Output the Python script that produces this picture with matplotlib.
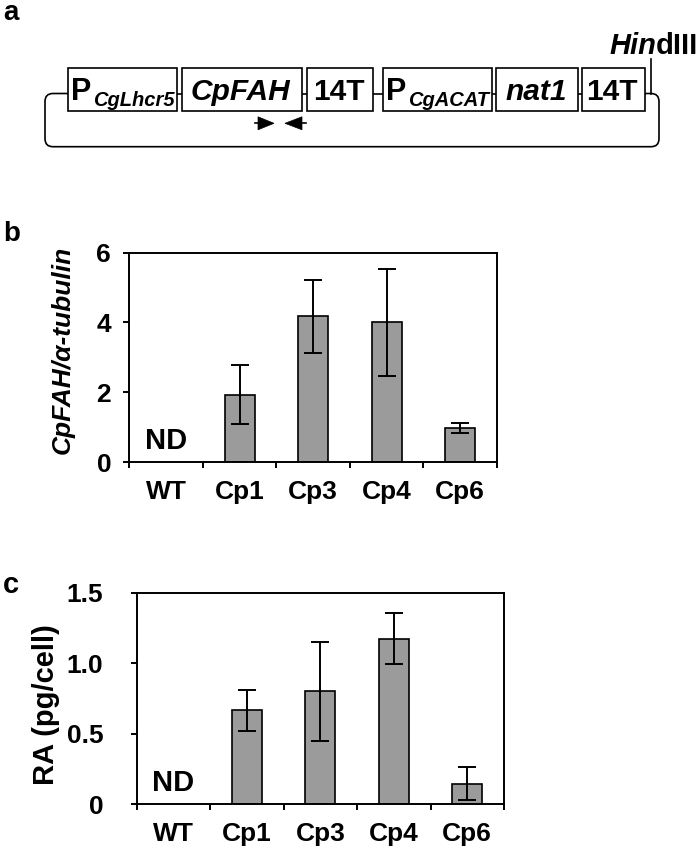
import numpy as np
import matplotlib
matplotlib.use('Agg')
import matplotlib.pyplot as plt
from matplotlib.patches import Rectangle, Polygon, PathPatch
from matplotlib.path import Path

plt.rcParams['font.family'] = ['Liberation Sans', 'DejaVu Sans']
plt.rcParams['font.weight'] = 'bold'
plt.rcParams['axes.labelweight'] = 'bold'

# ---------------- data ----------------
strains = ['WT', 'Cp1', 'Cp3', 'Cp4', 'Cp6']
expr_mean = [None, 1.93, 4.17, 4.00, 0.97]   # CpFAH / alpha-tubulin
expr_err = [None, 0.85, 1.05, 1.53, 0.15]
ra_mean = [None, 0.665, 0.80, 1.176, 0.145]  # RA (pg/cell)
ra_err = [None, 0.145, 0.352, 0.18, 0.12]
expr_ticks = [0, 2, 4, 6]
expr_ticklabels = ['0', '2', '4', '6']
ra_ticks = [0, 0.5, 1.0, 1.5]
ra_ticklabels = ['0', '0.5', '1.0', '1.5']
nd_label = 'ND'

# construct map (panel a): main label, subscript, italic
parts_main = ['P', 'CpFAH', '14T', 'P', 'nat1', '14T']
parts_sub = ['CgLhcr5', '', '', 'CgACAT', '', '']
parts_italic = [False, True, False, False, True, False]
site_label_italic = 'Hin'
site_label_plain = 'dIII'

BAR_COLOR = '#9b9b9b'

fig = plt.figure(figsize=(7, 8.59), dpi=100)

# ---------------- panel a : overlay axes in pixel units ----------------
ax0 = fig.add_axes([0, 0, 1, 1])
ax0.set_xlim(0, 700)
ax0.set_ylim(859, 0)
ax0.axis('off')

lw = 1.2
box_x = [(67.7, 177.3), (181.7, 301.7), (306.7, 373.3),
         (383.3, 491.7), (496.0, 577.7), (581.7, 645.0)]
box_top, box_bot = 68.3, 110.7
line_y = 93.5
loop_l, loop_r, loop_b, r = 45.0, 659.0, 146.7, 8.0

# backbone line through boxes
ax0.plot([box_x[0][0], box_x[-1][1]], [line_y, line_y], color='black', lw=lw, zorder=1)
# loop
verts = [(box_x[0][0], line_y), (loop_l + r, line_y), (loop_l, line_y), (loop_l, line_y + r),
         (loop_l, loop_b - r), (loop_l, loop_b), (loop_l + r, loop_b),
         (loop_r - r, loop_b), (loop_r, loop_b), (loop_r, loop_b - r),
         (loop_r, line_y + r), (loop_r, line_y), (loop_r - r, line_y),
         (box_x[-1][1], line_y)]
codes = [Path.MOVETO, Path.LINETO, Path.CURVE3, Path.CURVE3,
         Path.LINETO, Path.CURVE3, Path.CURVE3,
         Path.LINETO, Path.CURVE3, Path.CURVE3,
         Path.LINETO, Path.CURVE3, Path.CURVE3,
         Path.LINETO]
ax0.add_patch(PathPatch(Path(verts, codes), fill=False, lw=lw, color='black', zorder=1))

for (x0, x1), main, sub, ital in zip(box_x, parts_main, parts_sub, parts_italic):
    ax0.add_patch(Rectangle((x0, box_top), x1 - x0, box_bot - box_top,
                            facecolor='white', edgecolor='black', lw=lw, zorder=2))
    if sub:
        ax0.text(x0 + 3.0, 99.5, main, fontsize=22, ha='left', va='baseline', zorder=3)
        ax0.text(x0 + 25.0, 106.5, sub, fontsize=14.5, fontstyle='italic',
                 ha='left', va='baseline', zorder=3)
    else:
        ax0.text((x0 + x1) / 2 - 1, 100.5, main, fontsize=21.5,
                 fontstyle='italic' if ital else 'normal',
                 ha='center', va='baseline', zorder=3)

# HindIII site
ax0.plot([651, 651], [59.3, line_y], color='black', lw=lw, zorder=1)
t1 = ax0.text(609, 53.5, site_label_italic, fontsize=21, fontstyle='italic',
              ha='left', va='baseline')
ax0.annotate(site_label_plain, xy=(1, 0), xycoords=t1, fontsize=21,
             ha='left', va='bottom')

# primer arrows
ay = 123.3
ax0.add_patch(Polygon([(258.0, ay - 6.5), (274.0, ay), (258.0, ay + 6.5)],
                      closed=True, facecolor='black', edgecolor='black', lw=0.5))
ax0.plot([254.5, 259], [ay, ay], color='black', lw=lw)
ax0.add_patch(Polygon([(302.0, ay - 6.5), (285.0, ay), (302.0, ay + 6.5)],
                      closed=True, facecolor='black', edgecolor='black', lw=0.5))
ax0.plot([301, 305.5], [ay, ay], color='black', lw=lw)

# panel letters
ax0.text(11, 12.5, 'a', fontsize=20, ha='center', va='center')
ax0.text(12, 234, 'b', fontsize=20, ha='center', va='center')
ax0.text(11, 585, 'c', fontsize=21, ha='center', va='center')


# ---------------- bar panels ----------------
def bar_panel(rect, means, errs, ymax, ticks, ticklabels, ylabel, ylab_style,
              ylab_size, ylab_xy, ytick_size, ytick_pad, nd_y):
    ax = fig.add_axes(rect)
    idx = [i for i, m in enumerate(means) if m is not None]
    vals = [means[i] for i in idx]
    es = [errs[i] for i in idx]
    ax.bar(idx, vals, width=0.41, color=BAR_COLOR, edgecolor='black',
           linewidth=1.2, zorder=2)
    ax.errorbar(idx, vals, yerr=es, fmt='none', ecolor='black', elinewidth=1.4,
                capsize=6.5, capthick=1.4, zorder=3)
    ax.set_xlim(-0.5, len(strains) - 0.5)
    ax.set_ylim(0, ymax)
    ax.set_yticks(ticks)
    ax.set_yticklabels(ticklabels)
    ax.set_xticks(np.arange(-0.5, len(strains), 1.0))
    ax.set_xticklabels([])
    ax.set_xticks(range(len(strains)), minor=True)
    ax.set_xticklabels(strains, minor=True)
    for s in ax.spines.values():
        s.set_linewidth(1.4)
    ax.tick_params(axis='y', direction='out', length=4.5, width=1.4,
                   labelsize=ytick_size, pad=ytick_pad)
    ax.tick_params(axis='x', which='major', direction='out', length=4.5, width=1.4)
    ax.tick_params(axis='x', which='minor', length=0, labelsize=19, pad=13)
    ax.set_ylabel(ylabel, fontsize=ylab_size, fontstyle=ylab_style,
                  fontweight='bold', va='center')
    ax.yaxis.set_label_coords(*ylab_xy)
    ax.text(0, nd_y, nd_label, fontsize=21, ha='center', va='center')
    return ax


W, H = 700.0, 859.0
axb = bar_panel([129.3 / W, (H - 462) / H, (497 - 129.3) / W, (462 - 252.5) / H],
                expr_mean, expr_err, 6, expr_ticks, expr_ticklabels,
                'CpFAH/\u03b1-tubulin', 'italic', 19, (-0.180, 0.535), 19, 8.5, 0.61)
axc = bar_panel([136.7 / W, (H - 804) / H, (504 - 136.7) / W, (804 - 593) / H],
                ra_mean, ra_err, 1.5, ra_ticks, ra_ticklabels,
                'RA (pg/cell)', 'normal', 21, (-0.247, 0.469), 19, 19.5, 0.15)

fig.savefig('out.png', dpi=100)
